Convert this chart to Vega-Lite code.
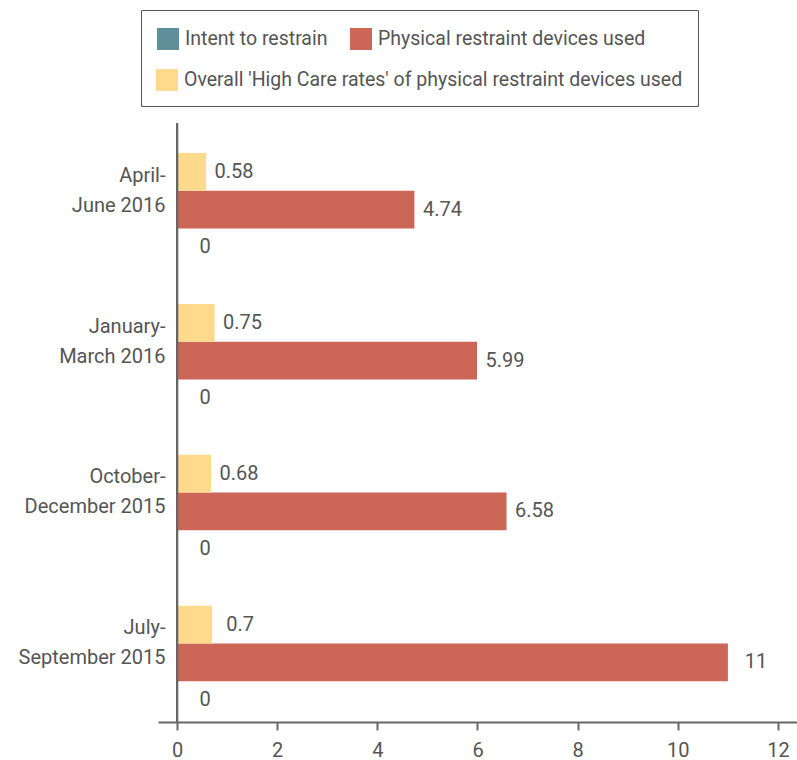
{
  "$schema": "https://vega.github.io/schema/vega-lite/v6.json",
  "autosize": {"type": "none"},
  "padding": {"left": 158, "top": 123, "right": 0, "bottom": 38},
  "width": 639,
  "height": 599,
  "background": "white",
  "config": {
    "view": {"stroke": null},
    "font": "Roboto",
    "text": {"font": "Roboto"}
  },
  "data": {
    "values": [
      {"period": "April-|June 2016", "series": "Overall 'High Care rates' of physical restraint devices used", "value": 0.58},
      {"period": "April-|June 2016", "series": "Physical restraint devices used", "value": 4.74},
      {"period": "April-|June 2016", "series": "Intent to restrain", "value": 0},
      {"period": "January-|March 2016", "series": "Overall 'High Care rates' of physical restraint devices used", "value": 0.75},
      {"period": "January-|March 2016", "series": "Physical restraint devices used", "value": 5.99},
      {"period": "January-|March 2016", "series": "Intent to restrain", "value": 0},
      {"period": "October-|December 2015", "series": "Overall 'High Care rates' of physical restraint devices used", "value": 0.68},
      {"period": "October-|December 2015", "series": "Physical restraint devices used", "value": 6.58},
      {"period": "October-|December 2015", "series": "Intent to restrain", "value": 0},
      {"period": "July-|September 2015", "series": "Overall 'High Care rates' of physical restraint devices used", "value": 0.7},
      {"period": "July-|September 2015", "series": "Physical restraint devices used", "value": 11},
      {"period": "July-|September 2015", "series": "Intent to restrain", "value": 0}
    ]
  },
  "encoding": {
    "y": {
      "field": "period",
      "type": "nominal",
      "sort": ["April-|June 2016", "January-|March 2016", "October-|December 2015", "July-|September 2015"],
      "scale": {"paddingInner": 0.25, "paddingOuter": 0.109, "align": 0.91},
      "axis": {
        "title": null,
        "domain": false,
        "ticks": false,
        "grid": false,
        "labelExpr": "split(datum.value, '|')",
        "labelFontSize": 20,
        "labelColor": "#555555",
        "labelLineHeight": 30,
        "labelPadding": -7,
        "labelOffset": -34,
        "labelFont": "Roboto"
      }
    },
    "yOffset": {
      "field": "series",
      "type": "nominal",
      "scale": {
        "domain": ["Overall 'High Care rates' of physical restraint devices used", "Physical restraint devices used", "Intent to restrain"],
        "paddingInner": 0,
        "paddingOuter": 0
      }
    },
    "x": {
      "field": "value",
      "type": "quantitative",
      "scale": {"domain": [-0.38, 12.38], "nice": false, "zero": false},
      "axis": {
        "title": null,
        "values": [0, 2, 4, 6, 8, 10, 12],
        "grid": false,
        "domainColor": "#666666",
        "domainWidth": 2,
        "tickColor": "#666666",
        "tickWidth": 2,
        "tickSize": 8,
        "labelFontSize": 20,
        "labelColor": "#555555",
        "labelPadding": 10,
        "labelFont": "Roboto",
        "labelFlush": false
      }
    }
  },
  "layer": [
    {
      "transform": [{"filter": "datum.series != \"Overall 'High Care rates' of physical restraint devices used\""}],
      "mark": {"type": "bar"},
      "encoding": {
        "x2": {"datum": 0},
        "color": {
          "field": "series",
          "type": "nominal",
          "scale": {
            "domain": ["Intent to restrain", "Physical restraint devices used"],
            "range": ["#5f8f99", "#cc6657"]
          },
          "legend": {
            "title": null,
            "orient": "none",
            "legendX": -1,
            "legendY": -95,
            "direction": "horizontal",
            "symbolType": "square",
            "symbolSize": 484,
            "symbolStrokeWidth": 0,
            "labelFontSize": 19.5,
            "labelColor": "#555555",
            "labelFont": "Roboto",
            "labelLimit": 600,
            "labelOffset": 6,
            "columnPadding": 22,
            "padding": 0,
            "zindex": 2
          }
        }
      }
    },
    {
      "transform": [{"filter": "datum.series == \"Overall 'High Care rates' of physical restraint devices used\""}],
      "mark": {"type": "bar"},
      "encoding": {
        "x2": {"datum": 0},
        "color": {
          "field": "series",
          "type": "nominal",
          "scale": {
            "domain": ["Overall 'High Care rates' of physical restraint devices used"],
            "range": ["#ffd98c"]
          },
          "legend": {
            "title": " ",
            "titleFontSize": 20,
            "titlePadding": 24,
            "orient": "none",
            "legendX": -17,
            "legendY": -113,
            "direction": "horizontal",
            "symbolType": "square",
            "symbolSize": 484,
            "symbolStrokeWidth": 0,
            "labelFontSize": 19.5,
            "labelColor": "#555555",
            "labelFont": "Roboto",
            "labelLimit": 700,
            "labelOffset": 6,
            "padding": 15,
            "strokeColor": "#555555",
            "zindex": 1
          }
        }
      }
    },
    {
      "mark": {"type": "text", "align": "center", "baseline": "middle", "dx": 28, "fontSize": 20, "color": "#555555", "font": "Roboto"},
      "encoding": {
        "text": {"field": "value", "type": "quantitative", "format": ""}
      }
    },
    {
      "mark": {"type": "rule", "color": "#666666", "strokeWidth": 2},
      "encoding": {"x": {"datum": 0}, "y": null, "yOffset": null}
    }
  ],
  "resolve": {"scale": {"color": "independent"}, "legend": {"color": "independent"}}
}
